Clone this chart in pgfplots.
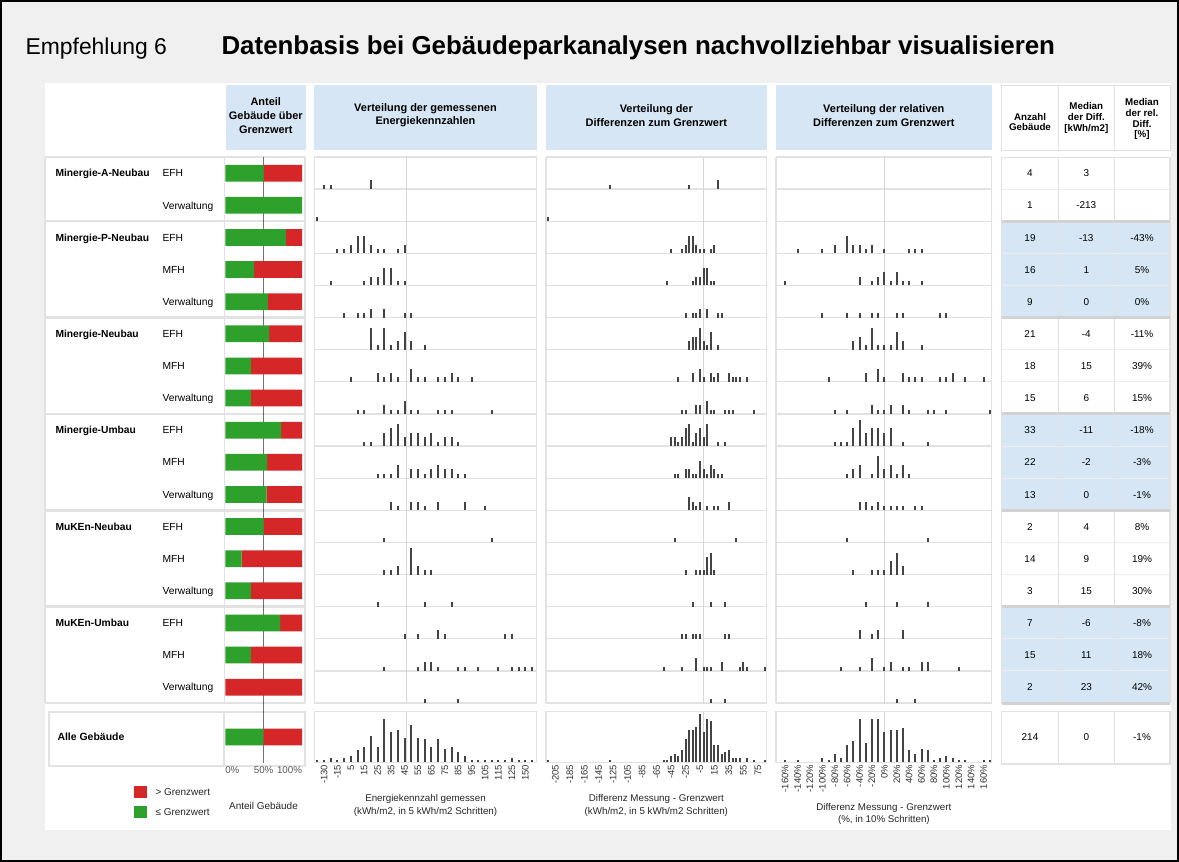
\documentclass[border=0pt]{standalone}
\usepackage{fontspec}
\setmainfont{Liberation Sans}
\usepackage{pgfplots}
\usepackage{pgfplotstable}
\pgfplotsset{compat=1.18}

\definecolor{bgc}{RGB}{240,240,240}
\definecolor{hdr}{RGB}{214,230,244}
\definecolor{grn}{RGB}{46,160,44}
\definecolor{rd}{RGB}{214,39,40}
\definecolor{barc}{RGB}{68,68,68}
\definecolor{gridc}{RGB}{226,226,226}
\definecolor{grpc}{RGB}{210,210,210}
\definecolor{refc}{RGB}{215,215,215}
\newcommand{\fnt}[2]{\fontsize{#1}{#2}\selectfont}

% share of buildings <= limit (%), row index (17.55 = all buildings)
\pgfplotstableread{
r le
0 50
1 100
2 78.9
3 37.5
4 55.6
5 57.1
6 33.3
7 33.3
8 72.7
9 54.5
10 53.8
11 50
12 21.4
13 33.3
14 71.4
15 33.3
16 0
17.55 49.5
}\share

% measured energy index: row, class index, count
\pgfplotstableread[row sep=\\]{
r x n\\
0 1 1\\ 0 2 1\\ 0 8 2\\
1 0 1\\
2 3 1\\ 2 4 1\\ 2 5 2\\ 2 6 4\\ 2 7 4\\ 2 8 2\\ 2 9 1\\ 2 10 1\\ 2 12 1\\ 2 13 2\\
3 2 1\\ 3 7 1\\ 3 8 2\\ 3 9 2\\ 3 10 4\\ 3 11 4\\ 3 12 1\\ 3 13 1\\
4 4 1\\ 4 6 1\\ 4 7 1\\ 4 8 2\\ 4 10 2\\ 4 13 1\\ 4 14 1\\
5 8 5\\ 5 9 1\\ 5 10 5\\ 5 11 1\\ 5 12 2\\ 5 13 4\\ 5 14 2\\ 5 16 1\\
6 5 1\\ 6 9 2\\ 6 10 1\\ 6 11 2\\ 6 12 1\\ 6 14 3\\ 6 15 1\\ 6 16 1\\ 6 18 1\\ 6 19 1\\ 6 20 2\\ 6 21 1\\ 6 23 1\\
7 6 1\\ 7 7 1\\ 7 10 2\\ 7 11 1\\ 7 12 1\\ 7 13 3\\ 7 14 1\\ 7 15 1\\ 7 18 1\\ 7 19 1\\ 7 20 1\\ 7 26 1\\
8 7 1\\ 8 8 1\\ 8 10 3\\ 8 11 4\\ 8 12 5\\ 8 13 2\\ 8 14 3\\ 8 15 3\\ 8 16 2\\ 8 17 3\\ 8 18 1\\ 8 19 2\\ 8 20 2\\ 8 21 1\\
9 9 1\\ 9 10 1\\ 9 11 1\\ 9 12 3\\ 9 14 2\\ 9 15 2\\ 9 16 1\\ 9 17 2\\ 9 18 3\\ 9 19 2\\ 9 20 2\\ 9 21 1\\ 9 22 1\\
10 11 2\\ 10 12 1\\ 10 14 2\\ 10 15 2\\ 10 16 1\\ 10 18 2\\ 10 22 2\\ 10 25 1\\
11 10 1\\ 11 26 1\\
12 10 1\\ 12 11 1\\ 12 12 2\\ 12 14 6\\ 12 15 2\\ 12 16 1\\ 12 17 1\\
13 9 1\\ 13 16 1\\ 13 20 1\\
14 13 1\\ 14 15 1\\ 14 18 2\\ 14 19 1\\ 14 28 1\\ 14 29 1\\
15 10 1\\ 15 15 1\\ 15 16 2\\ 15 17 2\\ 15 18 1\\ 15 21 1\\ 15 22 1\\ 15 24 1\\ 15 27 1\\ 15 29 1\\ 15 30 1\\ 15 31 1\\ 15 32 1\\
16 16 1\\ 16 21 1\\
}\histA

% difference to limit (kWh/m2)
\pgfplotstableread[row sep=\\]{
r x n\\
0 -130 1\\ 0 -20 1\\ 0 20 2\\
1 -215 1\\
2 -45 1\\ 2 -30 1\\ 2 -25 2\\ 2 -20 4\\ 2 -15 4\\ 2 -10 2\\ 2 -5 1\\ 2 0 1\\ 2 10 1\\ 2 15 2\\
3 -50 1\\ 3 -15 1\\ 3 -10 2\\ 3 -5 2\\ 3 0 4\\ 3 5 4\\ 3 10 1\\ 3 15 1\\
4 -25 1\\ 4 -15 1\\ 4 -10 1\\ 4 -5 2\\ 4 5 2\\ 4 20 1\\ 4 25 1\\
5 -20 2\\ 5 -15 3\\ 5 -10 3\\ 5 -5 5\\ 5 0 2\\ 5 5 1\\ 5 10 4\\ 5 20 1\\
6 -35 1\\ 6 -15 2\\ 6 -5 3\\ 6 0 1\\ 6 10 2\\ 6 15 1\\ 6 20 2\\ 6 35 2\\ 6 40 1\\ 6 45 1\\ 6 50 1\\ 6 60 1\\
7 -30 1\\ 7 -25 1\\ 7 -10 2\\ 7 -5 2\\ 7 5 3\\ 7 10 1\\ 7 15 1\\ 7 30 1\\ 7 35 1\\ 7 40 1\\ 7 70 1\\
8 -45 2\\ 8 -40 2\\ 8 -35 1\\ 8 -30 2\\ 8 -25 4\\ 8 -20 5\\ 8 -15 1\\ 8 -10 3\\ 8 -5 4\\ 8 0 2\\ 8 5 5\\ 8 20 1\\ 8 30 1\\
9 -40 1\\ 9 -35 1\\ 9 -25 2\\ 9 -20 2\\ 9 -15 1\\ 9 -10 1\\ 9 -5 4\\ 9 0 2\\ 9 5 1\\ 9 10 3\\ 9 15 2\\ 9 20 1\\ 9 25 1\\
10 -20 3\\ 10 -15 2\\ 10 -10 1\\ 10 -5 2\\ 10 5 1\\ 10 15 1\\ 10 20 1\\ 10 35 2\\
11 -40 1\\ 11 45 1\\
12 -25 1\\ 12 -10 1\\ 12 -5 1\\ 12 0 1\\ 12 5 4\\ 12 10 5\\ 12 15 1\\
13 -15 1\\ 13 10 1\\ 13 30 1\\
14 -30 1\\ 14 -25 1\\ 14 -15 1\\ 14 -10 1\\ 14 -5 1\\ 14 30 1\\ 14 35 1\\
15 -55 1\\ 15 -30 1\\ 15 -10 3\\ 15 0 1\\ 15 5 1\\ 15 10 1\\ 15 25 2\\ 15 50 1\\ 15 55 2\\ 15 60 1\\ 15 85 1\\
16 10 1\\ 16 30 1\\
}\histB

% relative difference to limit (%)
\pgfplotstableread[row sep=\\]{
r x n\\
2 -140 1\\ 2 -100 1\\ 2 -80 2\\ 2 -60 4\\ 2 -50 2\\ 2 -40 2\\ 2 -30 1\\ 2 -20 2\\ 2 0 1\\ 2 40 1\\ 2 50 1\\ 2 60 1\\
3 -160 1\\ 3 -40 2\\ 3 -20 1\\ 3 -10 2\\ 3 0 3\\ 3 10 1\\ 3 20 3\\ 3 30 1\\ 3 40 1\\ 3 60 1\\
4 -100 1\\ 4 -60 1\\ 4 -40 1\\ 4 -20 1\\ 4 -10 1\\ 4 20 1\\ 4 30 1\\ 4 90 1\\ 4 100 1\\
5 -50 2\\ 5 -40 3\\ 5 -30 1\\ 5 -20 5\\ 5 -10 1\\ 5 0 1\\ 5 10 1\\ 5 20 4\\ 5 30 2\\ 5 60 1\\
6 -90 1\\ 6 -30 2\\ 6 -10 3\\ 6 0 1\\ 6 30 2\\ 6 40 1\\ 6 50 1\\ 6 60 1\\ 6 90 1\\ 6 100 1\\ 6 110 2\\ 6 130 1\\ 6 160 1\\
7 -80 1\\ 7 -60 1\\ 7 -20 2\\ 7 -10 1\\ 7 0 1\\ 7 10 2\\ 7 30 2\\ 7 40 1\\ 7 70 1\\ 7 80 1\\ 7 100 1\\ 7 170 1\\
8 -80 1\\ 8 -70 1\\ 8 -60 1\\ 8 -50 4\\ 8 -40 6\\ 8 -30 3\\ 8 -20 4\\ 8 -10 4\\ 8 0 3\\ 8 10 4\\ 8 30 1\\ 8 70 1\\
9 -60 1\\ 9 -50 2\\ 9 -40 3\\ 9 -20 1\\ 9 -10 5\\ 9 0 2\\ 9 10 3\\ 9 20 1\\ 9 30 3\\ 9 40 1\\
10 -40 2\\ 10 -30 2\\ 10 -20 1\\ 10 -10 2\\ 10 0 1\\ 10 10 1\\ 10 20 1\\ 10 30 1\\ 10 50 1\\ 10 60 1\\
11 -60 1\\ 11 70 1\\
12 -50 1\\ 12 -20 1\\ 12 -10 1\\ 12 0 1\\ 12 10 3\\ 12 20 5\\ 12 30 2\\
13 -30 1\\ 13 20 1\\ 13 70 1\\
14 -40 2\\ 14 -20 1\\ 14 -10 2\\ 14 30 2\\
15 -70 1\\ 15 -40 1\\ 15 -20 3\\ 15 0 1\\ 15 10 2\\ 15 30 1\\ 15 40 1\\ 15 60 2\\ 15 70 2\\ 15 120 1\\
16 20 1\\ 16 50 1\\
}\histC

% all buildings
\pgfplotstableread[row sep=\\]{
x n\\
0 1\\ 1 1\\ 2 2\\ 3 1\\ 4 2\\ 5 3\\ 6 6\\ 7 8\\ 8 14\\ 9 8\\ 10 23\\ 11 16\\ 12 17\\ 13 13\\ 14 20\\ 15 13\\ 16 12\\
17 8\\ 18 12\\ 19 7\\ 20 8\\ 21 5\\ 22 3\\ 23 1\\ 24 1\\ 25 1\\ 26 1\\ 27 1\\ 28 1\\ 29 2\\ 30 1\\ 31 1\\ 32 1\\
}\allA
\pgfplotstableread[row sep=\\]{
x n\\
-215 1\\ -130 1\\ -55 1\\ -50 1\\ -45 3\\ -40 4\\ -35 3\\ -30 6\\ -25 12\\ -20 17\\ -15 17\\ -10 19\\ -5 26\\ 0 16\\
5 23\\ 10 22\\ 15 9\\ 20 9\\ 25 4\\ 30 5\\ 35 6\\ 40 2\\ 45 2\\ 50 2\\ 60 2\\ 70 1\\ 85 1\\
}\allB
\pgfplotstableread[row sep=\\]{
x n\\
-160 1\\ -140 1\\ -100 2\\ -90 1\\ -80 4\\ -70 2\\ -60 9\\ -50 11\\ -40 23\\ -30 10\\ -20 23\\ -10 23\\ 0 16\\ 10 17\\
20 17\\ 30 18\\ 40 6\\ 50 4\\ 60 7\\ 70 6\\ 80 1\\ 90 2\\ 100 3\\ 110 2\\ 120 1\\ 130 1\\ 160 1\\ 170 1\\
}\allC

\pgfplotsset{
  rowhist/.style={scale only axis, anchor=south west, height=546.04bp, ymin=0, ymax=124.1,
    enlargelimits=false, axis line style={draw=none}, tick style={draw=none},
    xtick=\empty, ytick=\empty, clip=false},
  hbars/.style={quiver={u=0, v=\thisrow{n},
      every arrow/.append style={line width=2bp, draw=barc}}, draw=barc, line width=2bp},
  allhist/.style={scale only axis, anchor=south west, height=49.8bp, ymin=0, ymax=27.07,
    enlargelimits=false, axis line style={draw=none}, tick style={draw=none}, ytick=\empty,
    clip=false, xticklabel style={rotate=90, anchor=east, font=\fnt{9.5}{11}, text=black!80},
    xlabel style={font=\fnt{9.8}{12.5}, align=center, text=black!85, yshift=-4bp}},
}

\begin{document}
\begin{tikzpicture}[x=1bp,y=1bp]
% frame
\fill[bgc] (0,0) rectangle (1179,-862);
\draw[black, line width=2bp] (1,-1) rectangle (1178,-861);
\fill[white] (45,-83) rectangle (1171,-830);
\node[anchor=base west, font=\fnt{23}{26}] at (22,-54) {Empfehlung 6};
\node[anchor=base west, font=\fnt{26}{29}\bfseries] at (218,-54) {Datenbasis bei Gebäudeparkanalysen nachvollziehbar visualisieren};

% column headers
\fill[hdr] (225.6,-85) rectangle (306,-150);
\fill[hdr] (314.3,-85) rectangle (536.7,-150);
\fill[hdr] (546,-85) rectangle (766.7,-150);
\fill[hdr] (776,-85) rectangle (991.7,-150);
\begin{scope}[every node/.style={font=\fnt{11}{13.7}\bfseries, align=center}]
\node at (265.8,-115.5) {Anteil\\Gebäude über\\Grenzwert};
\node at (425.5,-115.3) {Verteilung der gemessenen\\Energiekennzahlen};
\node at (656.3,-115.3) {Verteilung der\\Differenzen zum Grenzwert};
\node at (883.8,-115.3) {Verteilung der relativen\\Differenzen zum Grenzwert};
\end{scope}
\draw[gridc, line width=1bp] (1001.7,-85) rectangle (1170,-150);
\draw[gridc, line width=1bp] (1058.3,-85) -- (1058.3,-150) (1114.3,-85) -- (1114.3,-150);
\begin{scope}[every node/.style={font=\fnt{9.8}{11}\bfseries, align=center}]
\node at (1030,-122) {Anzahl\\Gebäude};
\node at (1086.3,-118) {Median\\der Diff.\\{[kWh/m2]}};
\node at (1142,-119) {Median\\der rel.\\Diff.\\{[\%]}};
\end{scope}

% table body
\fill[hdr] (1001.7,-221.24) rectangle (1170,-317.6);
\fill[hdr] (1001.7,-413.96) rectangle (1170,-510.32);
\fill[hdr] (1001.7,-606.68) rectangle (1170,-703.04);
\foreach \k in {1,...,16}
  \draw[gridc!60!white, line width=1bp] (1001.7,{-(157+32.12*\k)}) -- (1170,{-(157+32.12*\k)});
\foreach \xx in {1001.7,1058.3,1114.3,1170}
  \draw[gridc, line width=1.2bp] (\xx,-157) -- (\xx,-703.04);
\draw[gridc, line width=1bp] (1001.7,-157) -- (1170,-157);
\foreach \k in {2,5,8,11,14,17}
  \draw[grpc, line width=3bp] (1001.7,{-(157+32.12*\k)}) -- (1170,{-(157+32.12*\k)});
\foreach \r/\a/\b/\c in {0/4/3/{},1/1/-213/{},2/19/-13/-43\%,3/16/1/5\%,4/9/0/0\%,
    5/21/-4/-11\%,6/18/15/39\%,7/15/6/15\%,8/33/-11/-18\%,9/22/-2/-3\%,10/13/0/-1\%,
    11/2/4/8\%,12/14/9/19\%,13/3/15/30\%,14/7/-6/-8\%,15/15/11/18\%,16/2/23/42\%}{
  \node[anchor=base, font=\fnt{10}{12}] at (1030,{-(173.2+32.12*\r)-3.6}) {\a};
  \node[anchor=base, font=\fnt{10}{12}] at (1086.3,{-(173.2+32.12*\r)-3.6}) {\b};
  \node[anchor=base, font=\fnt{10}{12}] at (1142,{-(173.2+32.12*\r)-3.6}) {\c};
}
\draw[gridc, line width=1.5bp] (1001.7,-711.7) rectangle (1170,-764);
\draw[gridc, line width=1.2bp] (1058.3,-711.7) -- (1058.3,-764) (1114.3,-711.7) -- (1114.3,-764);
\node[anchor=base, font=\fnt{10}{12}] at (1030,-740.6) {214};
\node[anchor=base, font=\fnt{10}{12}] at (1086.3,-740.6) {0};
\node[anchor=base, font=\fnt{10}{12}] at (1142,-740.6) {-1\%};

% label and share columns
\foreach \xx in {45,224.3,305}
  \draw[gridc, line width=1.5bp] (\xx,-157) -- (\xx,-703.04);
\foreach \k in {0,2,5,8,11,14,17}
  \draw[gridc, line width=2.5bp] (45,{-(157+32.12*\k)}) -- (305,{-(157+32.12*\k)});
\foreach \g/\r in {Minergie-A-Neubau/0,Minergie-P-Neubau/2,Minergie-Neubau/5,
    Minergie-Umbau/8,MuKEn-Neubau/11,MuKEn-Umbau/14}
  \node[anchor=base west, font=\fnt{10.3}{12}\bfseries] at (52,{-(173.2+32.12*\r)-3.7}) {\g};
\foreach \t/\r in {EFH/0,Verwaltung/1,EFH/2,MFH/3,Verwaltung/4,EFH/5,MFH/6,Verwaltung/7,
    EFH/8,MFH/9,Verwaltung/10,EFH/11,MFH/12,Verwaltung/13,EFH/14,MFH/15,Verwaltung/16}
  \node[anchor=base west, font=\fnt{10.3}{12}] at (159,{-(173.2+32.12*\r)-3.7}) {\t};
\draw[gridc, line width=2bp] (49,-712) rectangle (224.3,-766);
\draw[gridc, line width=2bp] (224.3,-712) rectangle (305,-766);
\node[anchor=base west, font=\fnt{10.5}{12}\bfseries] at (54,-740.8) {Alle Gebäude};

% histogram panels
\foreach \xl/\xr in {314.3/536.7,546/766.7,776/991.7}{
  \foreach \k in {0,...,17}
    \draw[gridc, line width=1.3bp] (\xl,{-(157+32.12*\k)}) -- (\xr,{-(157+32.12*\k)});
  \draw[gridc, line width=1.3bp] (\xl,-157) -- (\xl,-703.04) (\xr,-157) -- (\xr,-703.04);
  \draw[gridc, line width=1.5bp] (\xl,-711.7) rectangle (\xr,-762.5);
}

% legend and share axis labels
\fill[rd] (134,-786) rectangle (147,-798);
\fill[grn] (134,-806) rectangle (147,-818);
\node[anchor=west, font=\fnt{10}{12}, text=black!85] at (152,-792) {> Grenzwert};
\node[anchor=west, font=\fnt{10}{12}, text=black!85] at (152,-812) {≤ Grenzwert};
\node[font=\fnt{10}{12}, text=black!85] at (263.5,-806) {Anteil Gebäude};

% share bars
\begin{axis}[scale only axis, anchor=south west, at={(224.3bp,-763bp)}, width=80.7bp, height=606bp,
  xbar stacked, bar width=16.7bp, y dir=reverse, xmin=-1.3, xmax=103.9, ymin=-0.504, ymax=18.36,
  enlargelimits=false, axis line style={draw=none}, tick style={draw=none}, ytick=\empty,
  xtick={0,50,100}, xticklabels={\makebox[0pt][l]{0\%},50\%,\makebox[0pt][r]{100\%}},
  xticklabel style={font=\fnt{9.8}{11}, text=black!65}, clip=false]
\addplot[fill=grn, draw=none] table[x=le, y=r] {\share};
\addplot[fill=rd, draw=none] table[x expr={100-\thisrow{le}}, y=r] {\share};
\draw[black, opacity=0.55, line width=1.2bp] (axis cs:50,-0.504) -- (axis cs:50,18.36);
\end{axis}

% row histograms
\begin{axis}[rowhist, at={(314.3bp,-703.04bp)}, width=222.4bp, xmin=-0.45, xmax=32.7]
\draw[refc, line width=1.2bp] (axis cs:13.25,0) -- (axis cs:13.25,124.1);
\addplot[hbars] table[x=x, y expr={7.3*(16-\thisrow{r})}] {\histA};
\end{axis}
\begin{axis}[rowhist, at={(546bp,-703.04bp)}, width=220.7bp, xmin=-217.9, xmax=87.2]
\draw[refc, line width=1.2bp] (axis cs:0,0) -- (axis cs:0,124.1);
\addplot[hbars] table[x=x, y expr={7.3*(16-\thisrow{r})}] {\histB};
\end{axis}
\begin{axis}[rowhist, at={(776bp,-703.04bp)}, width=215.7bp, xmin=-174.7, xmax=173.1]
\draw[refc, line width=1.2bp] (axis cs:0,0) -- (axis cs:0,124.1);
\addplot[hbars] table[x=x, y expr={7.3*(16-\thisrow{r})}] {\histC};
\end{axis}

% all buildings
\begin{axis}[allhist, at={(314.3bp,-761.5bp)}, width=222.4bp, xmin=-0.45, xmax=32.7,
  xtick={1,3,...,31}, xticklabels={-130,-15,5,15,25,35,45,55,65,75,85,95,105,115,125,150},
  xlabel={Energiekennzahl gemessen\\(kWh/m2, in 5 kWh/m2 Schritten)}]
\draw[refc, line width=1.2bp] (axis cs:13.25,0) -- (axis cs:13.25,27.07);
\addplot[ycomb, draw=barc, line width=2bp] table[x=x, y=n] {\allA};
\end{axis}
\begin{axis}[allhist, at={(546bp,-761.5bp)}, width=220.7bp, xmin=-217.9, xmax=87.2,
  xtick={-205,-185,...,75}, xticklabels={-205,-185,-165,-145,-125,-105,-85,-65,-45,-25,-5,15,35,55,75},
  xlabel={Differenz Messung - Grenzwert\\(kWh/m2, in 5 kWh/m2 Schritten)}]
\draw[refc, line width=1.2bp] (axis cs:0,0) -- (axis cs:0,27.07);
\addplot[ycomb, draw=barc, line width=2bp] table[x=x, y=n] {\allB};
\end{axis}
\begin{axis}[allhist, at={(776bp,-761.5bp)}, width=215.7bp, xmin=-174.7, xmax=173.1,
  xtick={-160,-140,...,160},
  xticklabels={-160\%,-140\%,-120\%,-100\%,-80\%,-60\%,-40\%,-20\%,0\%,20\%,40\%,60\%,80\%,100\%,120\%,140\%,160\%},
  xlabel={Differenz Messung - Grenzwert\\(\%, in 10\% Schritten)}]
\draw[refc, line width=1.2bp] (axis cs:0,0) -- (axis cs:0,27.07);
\addplot[ycomb, draw=barc, line width=2bp] table[x=x, y=n] {\allC};
\end{axis}

\pgfresetboundingbox
\path (0,0) rectangle (1179,-862);
\end{tikzpicture}
\end{document}
